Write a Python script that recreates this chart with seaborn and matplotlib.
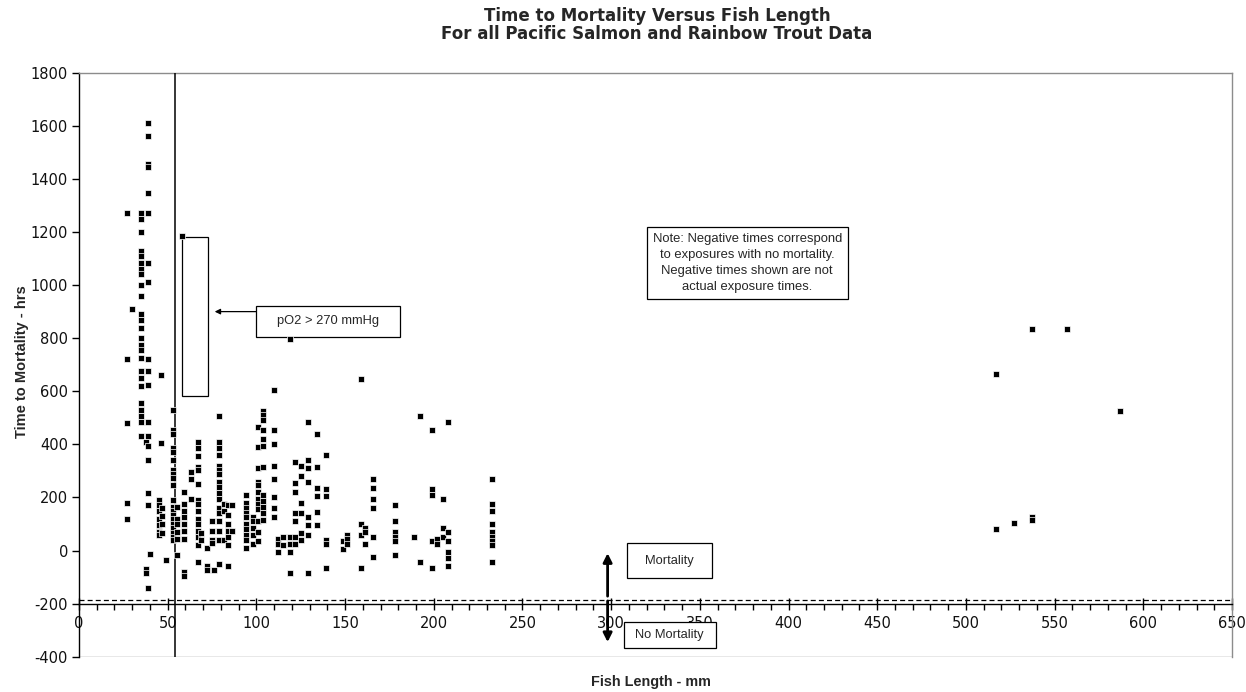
import numpy as np
import pandas as pd
import matplotlib
matplotlib.use("Agg")
import matplotlib.pyplot as plt
import seaborn as sns
from matplotlib.patches import Rectangle

# ---------------- data ----------------
fish_length_mm = (
    [27] * 5 + [30] + [35] * 25 + [38] * 3 + [39] * 18 + [40] + [45] * 7 + [46] * 2 + [47] * 4 + [49]
    + [53] * 20 + [55] * 6 + [58] + [59] * 9 + [63] * 3 + [67] * 15 + [69] * 2 + [72] * 3 + [75] * 4 + [76]
    + [79] * 17 + [82] * 3 + [84] * 7 + [86] * 2 + [94] * 10 + [98] * 5 + [101] * 12 + [104] * 12
    + [110] * 8 + [112] * 3 + [115] * 2 + [119] * 5 + [122] * 7 + [125] * 6 + [129] * 8 + [134] * 6
    + [139] * 6 + [149] * 2 + [151] * 3 + [159] * 4 + [161] * 3 + [166] * 6 + [178] * 6 + [189]
    + [192] * 2 + [199] * 5 + [202] * 2 + [205] * 3 + [208] * 6 + [233] * 9
    + [517] * 2 + [527] + [537] * 3 + [557] + [587]
)
time_to_mortality_hrs = [
    1270, 720, 480, 180, 120,
    910,
    1270, 1250, 1200, 1130, 1110, 1085, 1060, 1040, 1000, 960, 890, 870, 840, 800, 775, 755, 725,
    675, 650, 620, 555, 530, 505, 485, 430,
    410, -70, -85,
    1610, 1560, 1455, 1445, 1345, 1270, 1085, 1010, 720, 675, 625, 485, 430, 395, 340, 215, 170, -140,
    -12,
    190, 170, 150, 120, 95, 70, 60,
    660, 405,
    160, 130, 100, 65,
    -37,
    530, 455, 440, 385, 370, 340, 305, 290, 275, 245, 190, 165, 150, 135, 120, 100, 85, 65, 50, 40,
    165, 120, 100, 70, 45, -15,
    1185,
    220, 175, 150, 125, 100, 75, 45, -80, -95,
    295, 270, 195,
    410, 385, 355, 315, 305, 250, 190, 175, 150, 120, 100, 75, 50, 20, -45,
    65, 40,
    10, -60, -75,
    110, 75, 40, 30,
    -75,
    505, 410, 385, 360, 320, 305, 290, 260, 240, 215, 195, 160, 140, 110, 75, 40, -50,
    175, 150, 40,
    170, 135, 100, 75, 50, 20, -60,
    170, 75,
    210, 180, 160, 140, 125, 100, 80, 60, 40, 10,
    125, 110, 85, 60, 25,
    465, 390, 310, 260, 245, 220, 195, 175, 155, 110, 70, 35,
    525, 510, 490, 455, 420, 395, 315, 210, 185, 165, 140, 115,
    605, 455, 400, 320, 270, 200, 160, 125,
    45, 25, -5,
    50, 20,
    795, 50, 25, -5, -85,
    335, 255, 220, 140, 110, 50, 25,
    320, 280, 180, 140, 65, 40,
    485, 340, 310, 260, 125, 95, 60, -85,
    440, 315, 235, 205, 145, 95,
    360, 230, 205, 40, 25, -65,
    5, 35,
    58, 43, 24,
    645, 100, 60, -65,
    85, 70, 25,
    270, 235, 195, 160, 50, -25,
    170, 110, 70, 50, 35, -15,
    50,
    505, -45,
    455, 230, 210, 35, -65,
    45, 25,
    195, 85, 50,
    485, 70, 35, -5, -30, -60,
    270, 175, 150, 100, 70, 50, 35, 20, -45,
    665, 80,
    105,
    835, 125, 115,
    835,
    525,
]

x_ticks = [0, 50, 100, 150, 200, 250, 300, 350, 400, 450, 500, 550, 600, 650]
y_ticks = [-400, -200, 0, 200, 400, 600, 800, 1000, 1200, 1400, 1600, 1800]

title_lines = ["Time to Mortality Versus Fish Length",
               "For all Pacific Salmon and Rainbow Trout Data"]
x_label = "Fish Length - mm"
y_label = "Time to Mortality - hrs"
note_text = ("Note: Negative times correspond\nto exposures with no mortality.\n"
             "Negative times shown are not\nactual exposure times.")
po2_text = "pO2 > 270 mmHg"
mort_text = "Mortality"
nomort_text = "No Mortality"

# ---------------- figure ----------------
sns.set_theme(style="white")
plt.rcParams["font.family"] = ["Liberation Sans", "DejaVu Sans"]
plt.rcParams["axes.unicode_minus"] = False

W, H = 1246, 692
fig = plt.figure(figsize=(W / 100, H / 100), dpi=100)
ax = fig.add_axes([79 / W, 1 - 656.7 / H, (1232 - 79) / W, (656.7 - 72.7) / H])

df = pd.DataFrame({"len": fish_length_mm, "t": time_to_mortality_hrs})
sns.scatterplot(data=df, x="len", y="t", marker="s", s=18, color="black",
                edgecolor="white", linewidth=0.5, ax=ax, zorder=5, legend=False)

ax.set_xlim(0, 650)
ax.set_ylim(-400, 1800)
ax.set_xlabel("")
ax.set_ylabel("")

# spines
for s in ["top", "right"]:
    ax.spines[s].set_color("#8c8c8c")
    ax.spines[s].set_linewidth(1.0)
ax.spines["left"].set_color("black")
ax.spines["left"].set_linewidth(1.0)
ax.spines["bottom"].set_position(("data", -200))
ax.spines["bottom"].set_color("black")
ax.spines["bottom"].set_linewidth(1.0)
ax.axhline(-400, color="#8c8c8c", lw=1.0, zorder=1)

ax.set_xticks(x_ticks)
ax.set_xticks(np.arange(0, 651, 10), minor=True)
ax.set_yticks(y_ticks)
ax.tick_params(axis="x", which="major", direction="inout", length=8, width=1,
               color="black", labelsize=10.5, pad=5, labelcolor="#111111", bottom=True,
               labelfontfamily="DejaVu Sans")
ax.tick_params(axis="x", which="minor", direction="out", length=4, width=1,
               color="black", bottom=True)
ax.tick_params(axis="y", which="major", direction="out", length=5, width=1,
               color="black", labelsize=10.5, pad=3, labelcolor="#111111", left=True,
               labelfontfamily="DejaVu Sans")
ax.grid(False)

# reference lines
ax.axhline(-185, color="black", lw=0.9, ls=(0, (4, 2.5)), zorder=2)
ax.axvline(54, color="black", lw=1.1, zorder=3)

# rectangle marking pO2 region + label box with arrow
ax.add_patch(Rectangle((57.8, 582), 14.9, 598, fill=False, ec="black", lw=0.9, zorder=4))
ax.add_patch(Rectangle((99.8, 805), 81.2, 117, fc="white", ec="black", lw=0.9, zorder=4))
ax.text(140.4, 863, po2_text, ha="center", va="center", fontsize=9.3, zorder=6)
ax.annotate("", xy=(76.5, 900), xytext=(99.8, 900),
            arrowprops=dict(arrowstyle="-|>", color="black", lw=0.9,
                            mutation_scale=8, shrinkA=0, shrinkB=0), zorder=6)

# note box
ax.add_patch(Rectangle((320, 947), 113.5, 273, fc="white", ec="black", lw=0.9, zorder=4))
ax.text(376.7, 1083, note_text, ha="center", va="center", fontsize=9.4,
        linespacing=1.42, zorder=6)

# mortality / no-mortality boxes and arrows
ax.add_patch(Rectangle((309, -105), 47.6, 134, fc="white", ec="black", lw=0.9, zorder=4))
ax.text(332.8, -38, mort_text, ha="center", va="center", fontsize=9.3, zorder=6)
ax.add_patch(Rectangle((307, -368), 52, 100, fc="white", ec="black", lw=0.9, zorder=7))
ax.text(333, -318, nomort_text, ha="center", va="center", fontsize=9.3, zorder=8)
ax.annotate("", xy=(298, -10), xytext=(298, -172),
            arrowprops=dict(arrowstyle="-|>", color="black", lw=2,
                            mutation_scale=13, shrinkA=0, shrinkB=0), zorder=6)
ax.annotate("", xy=(298, -345), xytext=(298, -190),
            arrowprops=dict(arrowstyle="-|>", color="black", lw=2,
                            mutation_scale=13, shrinkA=0, shrinkB=0), zorder=6)

# titles and labels
fig.text(657 / W, 1 - 16 / H, title_lines[0], ha="center", va="center",
         fontsize=12, fontweight="bold", family="DejaVu Sans")
fig.text(657 / W, 1 - 34 / H, title_lines[1], ha="center", va="center",
         fontsize=12, fontweight="bold", family="DejaVu Sans")
fig.text(651 / W, 1 - 682 / H, x_label, ha="center", va="center",
         fontsize=10.4, fontweight="bold")
fig.text(22 / W, 1 - 362 / H, y_label, ha="center", va="center",
         fontsize=10.5, fontweight="bold", rotation=90)

fig.savefig("out.png", dpi=100, facecolor="white")
